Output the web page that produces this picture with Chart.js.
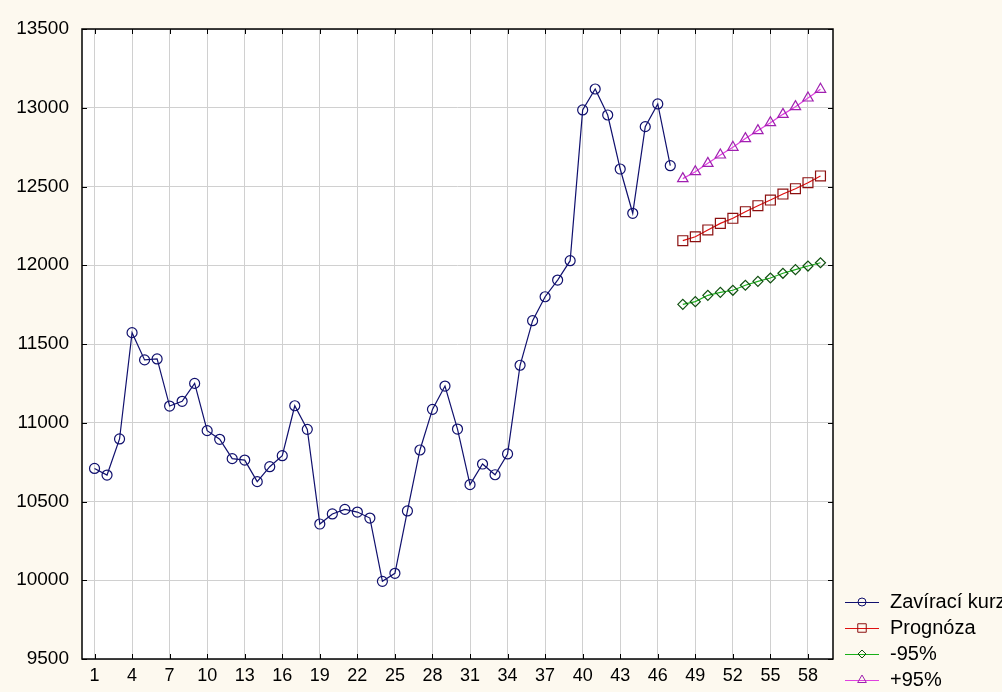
<!DOCTYPE html>
<html>
<head>
<meta charset="utf-8">
<script src="https://cdn.jsdelivr.net/npm/chart.js@4.4.1/dist/chart.umd.min.js"></script>
<style>
  html, body { margin: 0; padding: 0; background: #fdf9ef; }
  #graf { display: block; }
</style>
</head>
<body>
<canvas id="graf" width="1002" height="692"></canvas>
<script>
// --- data ---
const obdobi = [1,2,3,4,5,6,7,8,9,10,11,12,13,14,15,16,17,18,19,20,21,22,23,24,25,26,27,28,29,30,31,32,33,34,35,36,37,38,39,40,41,42,43,44,45,46,47];
const zaviraciKurz = [10710,10668,10897,11572,11399,11405,11106,11136,11250,10950,10895,10772,10763,10626,10721,10791,11108,10958,10357,10421,10450,10433,10395,9993,10044,10440,10827,11085,11233,10960,10607,10738,10670,10802,11365,11648,11800,11906,12029,12986,13119,12954,12611,12330,12880,13024,12632];
const obdobiPrognozy = [48,49,50,51,52,53,54,55,56,57,58,59];
const prognoza = [12156,12181,12224,12266,12298,12340,12378,12414,12452,12486,12524,12567];
const dolni95 = [11752,11769,11809,11828,11841,11873,11898,11919,11949,11972,11995,12016];
const horni95 = [12550,12594,12647,12700,12749,12804,12855,12905,12958,13007,13062,13117];
const xTicks = [1,4,7,10,13,16,19,22,25,28,31,34,37,40,43,46,49,52,55,58];
const yTicks = [9500,10000,10500,11000,11500,12000,12500,13000,13500];
const nazvy = ['Zavírací kurz', 'Prognóza', '-95%', '+95%'];

const body = (xs, ys) => xs.map((x, i) => ({ x: x, y: ys[i] }));

// pozadí: krémové okolí, bílá plocha grafu
const pozadi = {
  id: 'pozadi',
  beforeDraw(chart) {
    const { ctx, chartArea: a } = chart;
    ctx.save();
    ctx.fillStyle = '#fdf9ef';
    ctx.fillRect(0, 0, chart.width, chart.height);
    ctx.fillStyle = '#ffffff';
    ctx.fillRect(a.left, a.top, a.right - a.left, a.bottom - a.top);
    ctx.restore();
  }
};

// rámeček a dovnitř mířící značky na všech čtyřech stranách
const ramecek = {
  id: 'ramecek',
  afterDatasetsDraw(chart) {
    const { ctx, chartArea: a, scales } = chart;
    ctx.save();
    ctx.strokeStyle = '#000000';
    ctx.lineWidth = 1.5;
    ctx.strokeRect(a.left, a.top, a.right - a.left, a.bottom - a.top);
    ctx.lineWidth = 1;
    ctx.beginPath();
    xTicks.forEach(v => {
      const px = Math.round(scales.x.getPixelForValue(v)) + 0.5;
      ctx.moveTo(px, a.top); ctx.lineTo(px, a.top + 5);
      ctx.moveTo(px, a.bottom); ctx.lineTo(px, a.bottom - 5);
    });
    yTicks.forEach(v => {
      const py = Math.round(scales.y.getPixelForValue(v)) + 0.5;
      ctx.moveTo(a.left, py); ctx.lineTo(a.left + 5, py);
      ctx.moveTo(a.right, py); ctx.lineTo(a.right - 5, py);
    });
    ctx.stroke();
    ctx.restore();
  }
};

// legenda vpravo dole: čára + značka + text
const legenda = {
  id: 'legenda',
  afterDraw(chart) {
    const { ctx } = chart;
    ctx.save();
    ctx.textBaseline = 'middle';
    chart.data.datasets.forEach((ds, i) => {
      const y = 602 + i * 26;
      ctx.strokeStyle = ds.borderColor;
      ctx.lineWidth = 1;
      ctx.beginPath();
      ctx.moveTo(845, y + 0.5); ctx.lineTo(879, y + 0.5);
      ctx.stroke();
      ctx.strokeStyle = ds.pointBorderColor;
      ctx.fillStyle = 'rgba(0,0,0,0)';
      Chart.helpers.drawPoint(ctx, {
        pointStyle: ds.pointStyle, rotation: 0, radius: ds.pointRadius - 1, borderWidth: 1
      }, 862, y);
      ctx.font = '20px "Liberation Sans", Arial, sans-serif';
      ctx.fillStyle = '#000000';
      ctx.fillText(nazvy[i], 890, y);
    });
    ctx.restore();
  }
};

const xFont = { family: '"Liberation Sans", Arial, sans-serif', size: 18 };
const yFont = { family: '"Liberation Sans", Arial, sans-serif', size: 19 };

new Chart(document.getElementById('graf'), {
  type: 'line',
  data: {
    datasets: [
      {
        label: nazvy[0],
        data: body(obdobi, zaviraciKurz),
        borderColor: '#10106e',
        borderWidth: 1.2,
        pointStyle: 'circle',
        pointRadius: 5,
        pointBorderColor: '#10106e',
        pointBackgroundColor: 'rgba(0,0,0,0)',
        pointBorderWidth: 1.2
      },
      {
        label: nazvy[1],
        data: body(obdobiPrognozy, prognoza),
        borderColor: '#e01010',
        borderWidth: 1.2,
        pointStyle: 'rect',
        pointRadius: 7,
        pointBorderColor: '#8c1010',
        pointBackgroundColor: 'rgba(0,0,0,0)',
        pointBorderWidth: 1.2
      },
      {
        label: nazvy[2],
        data: body(obdobiPrognozy, dolni95),
        borderColor: '#18b018',
        borderWidth: 1.2,
        pointStyle: 'rectRot',
        pointRadius: 5,
        pointBorderColor: '#105010',
        pointBackgroundColor: 'rgba(0,0,0,0)',
        pointBorderWidth: 1.2
      },
      {
        label: nazvy[3],
        data: body(obdobiPrognozy, horni95),
        borderColor: '#e040e0',
        borderWidth: 1.2,
        pointStyle: 'triangle',
        pointRadius: 6,
        pointBorderColor: '#a020b0',
        pointBackgroundColor: 'rgba(0,0,0,0)',
        pointBorderWidth: 1.2
      }
    ]
  },
  options: {
    responsive: false,
    animation: false,
    devicePixelRatio: 1,
    layout: { padding: { top: 29, right: 169, left: 0, bottom: 0 } },
    scales: {
      x: {
        type: 'linear',
        min: 0,
        max: 60,
        afterBuildTicks: axis => { axis.ticks = xTicks.map(v => ({ value: v })); },
        afterFit: axis => { axis.height = 33; },
        ticks: { color: '#000000', font: xFont, padding: 6, maxRotation: 0, autoSkip: false,
                 callback: v => String(v) },
        grid: { color: '#d0d0d0', lineWidth: 1, drawTicks: false },
        border: { display: false }
      },
      y: {
        min: 9500,
        max: 13500,
        afterBuildTicks: axis => { axis.ticks = yTicks.map(v => ({ value: v })); },
        afterFit: axis => { axis.width = 82; },
        ticks: { color: '#000000', font: yFont, padding: 13, callback: v => String(v) },
        grid: { color: '#d0d0d0', lineWidth: 1, drawTicks: false },
        border: { display: false }
      }
    },
    plugins: {
      legend: { display: false },
      tooltip: { enabled: false }
    }
  },
  plugins: [pozadi, ramecek, legenda]
});
</script>
</body>
</html>
